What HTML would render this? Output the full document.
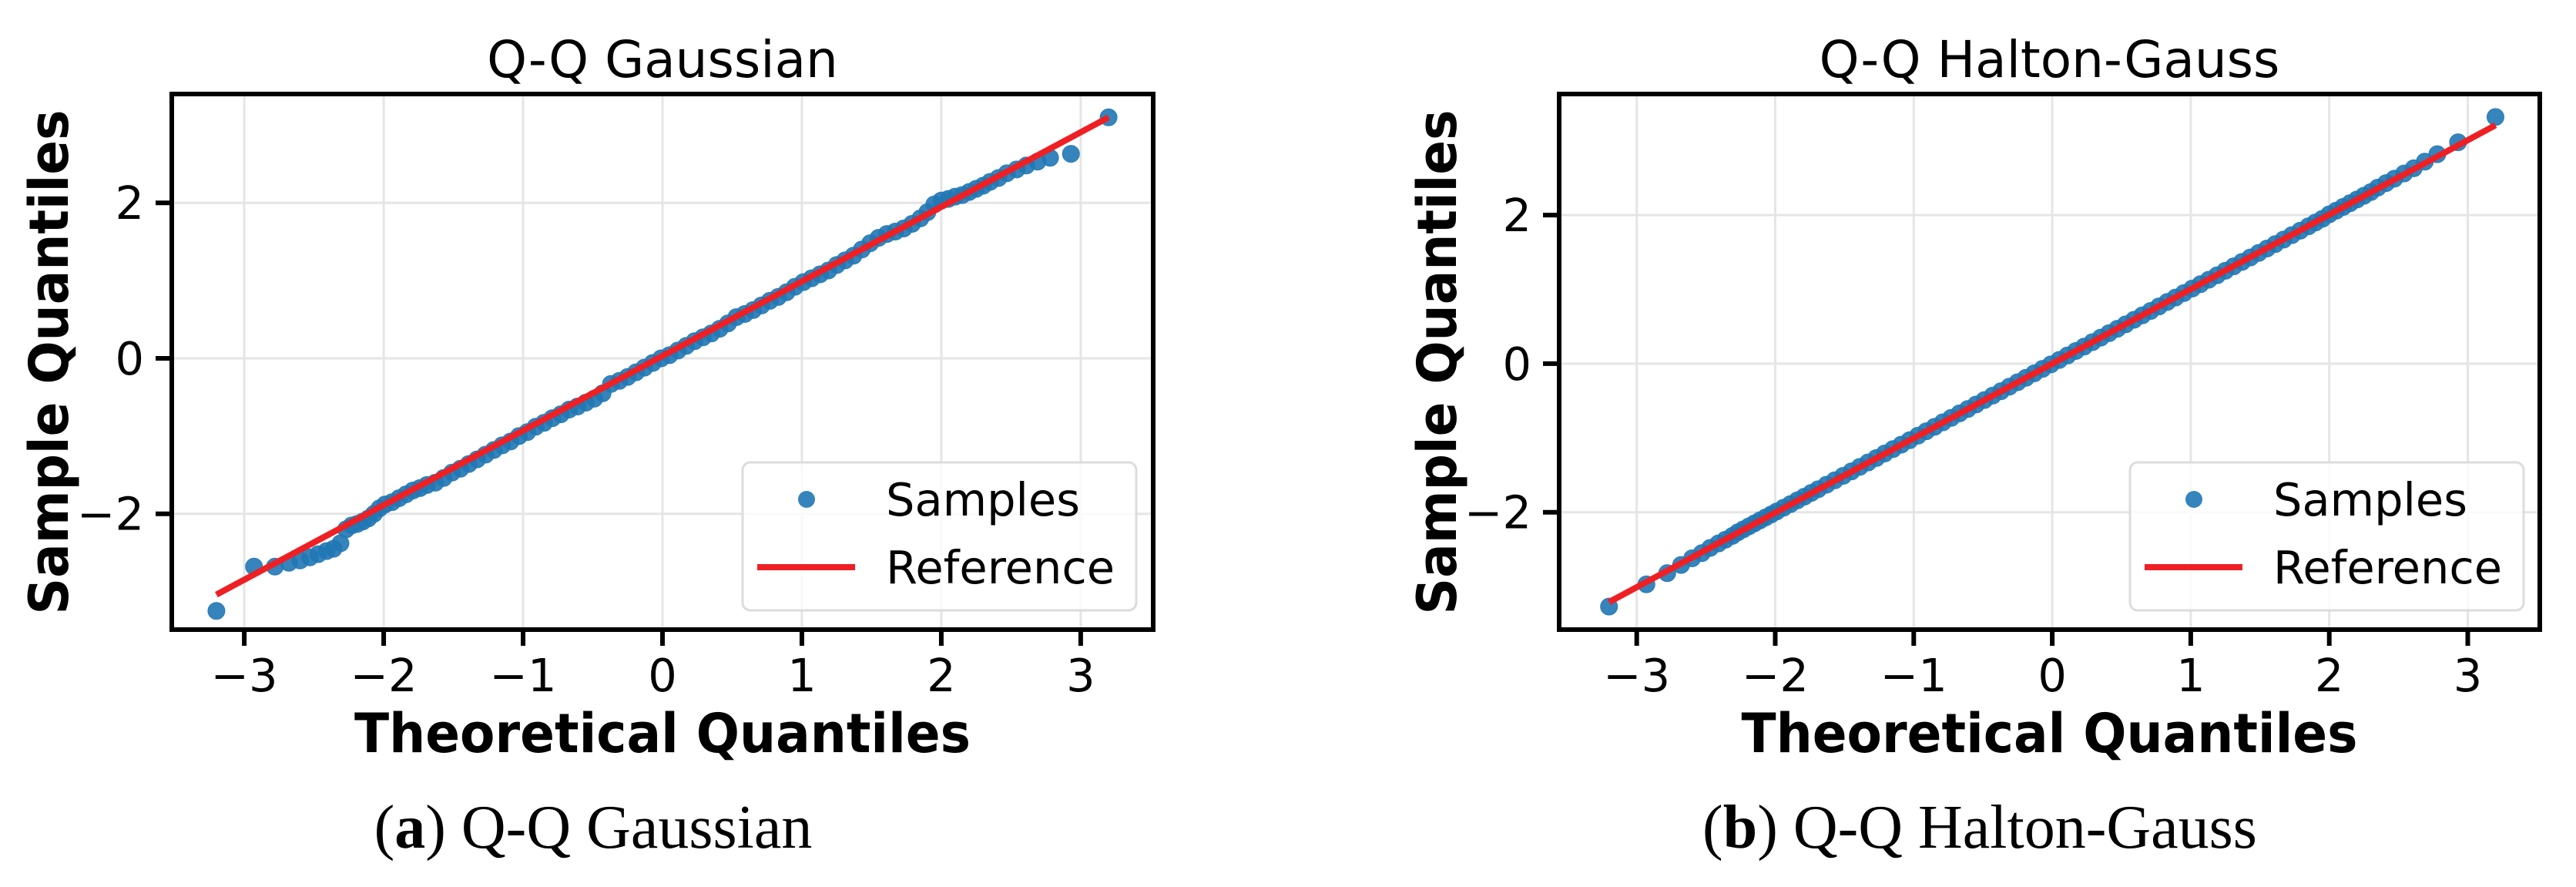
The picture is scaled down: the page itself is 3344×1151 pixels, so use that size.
<!DOCTYPE html>
<html><head><meta charset="utf-8"><style>
html,body{margin:0;padding:0;background:#fff;}
svg{display:block;}
text{font-family:"DejaVu Sans","Liberation Sans",sans-serif;fill:#000;}
.cap{font-family:"Liberation Serif","DejaVu Serif",serif;}
</style></head><body>
<svg id="fig" width="3344" height="1151" viewBox="0 0 3344 1151" xmlns="http://www.w3.org/2000/svg">
<rect width="3344" height="1151" fill="#fff"/>
<g id="pa"></g>
<g id="pb"></g>
<text class="cap" x="770" y="1100" font-size="80" text-anchor="middle">(<tspan font-weight="bold">a</tspan>) Q-Q Gaussian</text>
<text class="cap" x="2570" y="1100" font-size="80" text-anchor="middle">(<tspan font-weight="bold">b</tspan>) Q-Q Halton-Gauss</text>
</svg>
<script>
const theoretical = [-3.2,-2.93,-2.78,-2.68,-2.6,-2.53,-2.47,-2.41,-2.36,-2.31,-2.27,-2.23,-2.19,-2.15,-2.11,-2.07,-2.03,-1.99,-1.94,-1.89,-1.84,-1.79,-1.74,-1.69,-1.63,-1.57,-1.51,-1.45,-1.39,-1.33,-1.27,-1.21,-1.15,-1.09,-1.03,-0.97,-0.91,-0.85,-0.79,-0.73,-0.67,-0.61,-0.55,-0.49,-0.43,-0.37,-0.31,-0.25,-0.19,-0.13,-0.07,-0.01,0.05,0.11,0.17,0.23,0.29,0.35,0.41,0.47,0.53,0.59,0.65,0.71,0.77,0.83,0.89,0.95,1.01,1.07,1.13,1.19,1.25,1.31,1.37,1.43,1.49,1.55,1.61,1.67,1.73,1.79,1.85,1.9,1.95,2.0,2.05,2.1,2.15,2.2,2.25,2.3,2.35,2.41,2.47,2.54,2.61,2.69,2.78,2.93,3.2];
const samplesA = [-3.25,-2.68,-2.68,-2.63,-2.6,-2.56,-2.52,-2.48,-2.45,-2.38,-2.2,-2.15,-2.13,-2.1,-2.06,-2.0,-1.93,-1.88,-1.85,-1.8,-1.75,-1.7,-1.67,-1.63,-1.6,-1.54,-1.47,-1.42,-1.36,-1.3,-1.24,-1.18,-1.12,-1.07,-1.0,-0.95,-0.88,-0.83,-0.77,-0.72,-0.66,-0.62,-0.57,-0.52,-0.45,-0.33,-0.29,-0.24,-0.18,-0.12,-0.06,0.0,0.04,0.1,0.16,0.22,0.27,0.32,0.38,0.45,0.53,0.57,0.62,0.68,0.74,0.79,0.85,0.92,0.98,1.03,1.08,1.13,1.2,1.26,1.32,1.4,1.48,1.55,1.6,1.63,1.67,1.73,1.8,1.88,1.98,2.03,2.05,2.08,2.1,2.14,2.18,2.22,2.27,2.32,2.38,2.43,2.48,2.53,2.58,2.63,3.1];
const samplesB = [-3.27,-2.97,-2.82,-2.71,-2.62,-2.55,-2.48,-2.42,-2.37,-2.32,-2.27,-2.23,-2.19,-2.15,-2.11,-2.07,-2.03,-1.99,-1.94,-1.89,-1.84,-1.79,-1.74,-1.69,-1.63,-1.57,-1.51,-1.45,-1.39,-1.33,-1.27,-1.21,-1.15,-1.09,-1.03,-0.97,-0.91,-0.85,-0.79,-0.73,-0.67,-0.61,-0.55,-0.49,-0.43,-0.37,-0.31,-0.25,-0.19,-0.13,-0.07,-0.01,0.05,0.11,0.17,0.23,0.29,0.35,0.41,0.47,0.53,0.59,0.65,0.71,0.77,0.83,0.89,0.95,1.01,1.07,1.13,1.19,1.25,1.31,1.37,1.43,1.49,1.55,1.61,1.67,1.73,1.79,1.85,1.9,1.95,2.01,2.06,2.11,2.16,2.21,2.26,2.31,2.37,2.43,2.49,2.56,2.63,2.72,2.82,2.98,3.32];
const referenceAx = [-3.2, 3.2];
const referenceAy = [-3.04, 3.1];
const referenceBx = [-3.2, 3.2];
const referenceBy = [-3.21, 3.21];
const xTicks = [-3,-2,-1,0,1,2,3];
const xTickLabels = ["−3","−2","−1","0","1","2","3"];
const yTicks = [-2,0,2];
const yTickLabels = ["−2","0","2"];

const NS = "http://www.w3.org/2000/svg";
function mk(parent, tag, attrs){
  const e = document.createElementNS(NS, tag);
  for (const k in attrs) e.setAttribute(k, attrs[k]);
  parent.appendChild(e);
  return e;
}

function drawPanel(g, cfg){
  const sx = v => cfg.L + (v - cfg.x0) / (cfg.x1 - cfg.x0) * (cfg.R - cfg.L);
  const sy = v => cfg.B - (v - cfg.y0) / (cfg.y1 - cfg.y0) * (cfg.B - cfg.T);
  xTicks.forEach(t => {
    const l = mk(g, "line", {x1:sx(t), x2:sx(t), y1:cfg.T, y2:cfg.B, stroke:"#e5e5e5", "stroke-width":3});
    
    
  });
  yTicks.forEach(t => {
    const l = mk(g, "line", {x1:cfg.L, x2:cfg.R, y1:sy(t), y2:sy(t), stroke:"#e5e5e5", "stroke-width":3});
    
    
  });
  const sg = mk(g, "g", {});
  
  
  cfg.xs.forEach((x, i) => {
    const c = mk(sg, "circle", {cx:sx(x), cy:sy(cfg.ys[i]), r:11, fill:"#1f77b4", "fill-opacity":0.9, stroke:"#2a7bb8", "stroke-width":1});
    
    
  });
  const rl = mk(g, "line", {x1:sx(cfg.rx[0]), y1:sy(cfg.ry[0]), x2:sx(cfg.rx[1]), y2:sy(cfg.ry[1]), stroke:"#ee2024", "stroke-width":8});
  
  
  const fr = mk(g, "rect", {x:cfg.L, y:cfg.T, width:cfg.R-cfg.L, height:cfg.B-cfg.T, fill:"none", stroke:"#000", "stroke-width":6});
  
  
  xTicks.forEach((t, i) => {
    const tk = mk(g, "line", {x1:sx(t), x2:sx(t), y1:cfg.B, y2:cfg.B+21, stroke:"#000", "stroke-width":6});
    
    
    const tl = mk(g, "text", {x:sx(t), y:cfg.B+80, "font-size":59, "text-anchor":"middle"});
    tl.textContent = xTickLabels[i];
    
    
  });
  yTicks.forEach((t, i) => {
    const tk = mk(g, "line", {x1:cfg.L-21, x2:cfg.L, y1:sy(t), y2:sy(t), stroke:"#000", "stroke-width":6});
    
    
    const tl = mk(g, "text", {x:cfg.L-36, y:sy(t)+21, "font-size":59, "text-anchor":"end"});
    tl.textContent = yTickLabels[i];
    
    
  });
  const cx = (cfg.L + cfg.R) / 2;
  const ti = mk(g, "text", {x:cx, y:100, "font-size":66, "text-anchor":"middle"});
  ti.textContent = cfg.title;
  
  
  const xl = mk(g, "text", {x:cx, y:976, "font-size":70, "font-weight":"bold", "text-anchor":"middle", textLength:800, lengthAdjust:"spacingAndGlyphs"});
  xl.textContent = "Theoretical Quantiles";
  
  
  const yl = mk(g, "text", {x:0, y:0, "font-size":70, "font-weight":"bold", "text-anchor":"middle", textLength:655, lengthAdjust:"spacingAndGlyphs", transform:"translate("+cfg.ylx+",470) rotate(-90)"});
  yl.textContent = "Sample Quantiles";
  
  
  const lg = mk(g, "g", {});
  
  
  const lb = mk(lg, "rect", {x:cfg.lgx, y:600, width:511, height:192, rx:10, fill:"#fff", "fill-opacity":0.8, stroke:"#dcdcdc", "stroke-width":3});
  
  
  const lm = mk(lg, "circle", {cx:cfg.lgx+83, cy:648, r:11, fill:"#1f77b4", "fill-opacity":0.9});
  
  
  const lt1 = mk(lg, "text", {x:cfg.lgx+186, y:669, "font-size":59});
  lt1.textContent = "Samples";
  
  
  const ll = mk(lg, "line", {x1:cfg.lgx+19, x2:cfg.lgx+146, y1:736, y2:736, stroke:"#ee2024", "stroke-width":8});
  
  
  const lt2 = mk(lg, "text", {x:cfg.lgx+186, y:757, "font-size":59});
  lt2.textContent = "Reference";
  
  
}

drawPanel(document.getElementById("pa"), {L:223, R:1497, T:122, B:817, x0:-3.52, x1:3.52, y0:-3.49, y1:3.40,
  xs:theoretical, ys:samplesA, rx:referenceAx, ry:referenceAy, title:"Q-Q Gaussian", ylx:88, lgx:964});
drawPanel(document.getElementById("pb"), {L:2024, R:3297, T:122, B:817, x0:-3.56, x1:3.52, y0:-3.58, y1:3.63,
  xs:theoretical, ys:samplesB, rx:referenceBx, ry:referenceBy, title:"Q-Q Halton-Gauss", ylx:1890, lgx:2765});
</script>
</body></html>
